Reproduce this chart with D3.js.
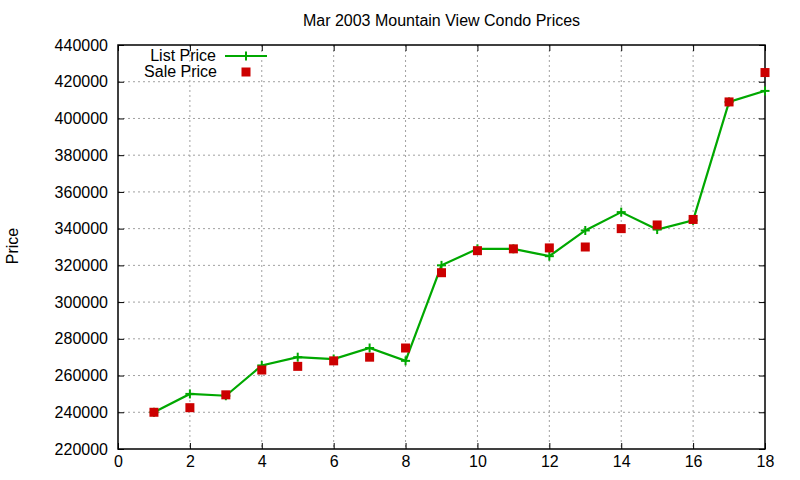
<!DOCTYPE html>
<html>
<head>
<meta charset="utf-8">
<script src="https://cdn.jsdelivr.net/npm/d3@7"></script>
<style>
  body { margin: 0; background: #fff; }
  text { font-family: "Liberation Sans", Arial, sans-serif; font-size: 16px; fill: #000; }
</style>
</head>
<body>
<div id="chart"></div>
<script>
// data
const listings = [1, 2, 3, 4, 5, 6, 7, 8, 9, 10, 11, 12, 13, 14, 15, 16, 17, 18];
const listPrice = [240000, 250000, 249000, 265500, 270000, 269000, 275000, 268000, 320000,
                   329000, 329000, 325000, 339000, 349000, 339500, 344500, 409000, 415000];
const salePrice = [240000, 242500, 249500, 263000, 265000, 268000, 270000, 275000, 316000,
                   328000, 329000, 329500, 330000, 340000, 342000, 345000, 409000, 425000];
const xTicks = [0, 2, 4, 6, 8, 10, 12, 14, 16, 18];
const yTicks = [220000, 240000, 260000, 280000, 300000, 320000, 340000, 360000, 380000, 400000, 420000, 440000];

const svgWidth = 800, svgHeight = 480;
const margin = { top: 45, right: 35, bottom: 31, left: 118 };
const width = svgWidth - margin.left - margin.right;
const height = svgHeight - margin.top - margin.bottom;
const green = "#00a800", red = "#cc0000";

const svg = d3.select("#chart").append("svg")
    .attr("width", svgWidth)
    .attr("height", svgHeight);

const g = svg.append("g")
    .attr("transform", "translate(" + margin.left + "," + margin.top + ")");

const x = d3.scaleLinear().domain([0, 18]).range([0, width]);
const y = d3.scaleLinear().domain([220000, 440000]).range([height, 0]);

// grid
g.append("g").selectAll("line").data(xTicks.slice(1, -1)).enter().append("line")
    .attr("x1", d => x(d)).attr("x2", d => x(d))
    .attr("y1", 0).attr("y2", height)
    .attr("stroke", "#a0a0a0").attr("stroke-dasharray", "2,3");
g.append("g").selectAll("line").data(yTicks.slice(1, -1)).enter().append("line")
    .attr("y1", d => y(d)).attr("y2", d => y(d))
    .attr("x1", 0).attr("x2", width)
    .attr("stroke", "#a0a0a0").attr("stroke-dasharray", "2,3");

// axes (ticks pointing inward, mirrored)
function styleAxis(sel) {
    sel.select(".domain").remove();
    sel.selectAll(".tick line").attr("stroke", "#000");
    sel.selectAll(".tick text").style("font-size", "16px").attr("fill", "#000");
}
g.append("g").attr("transform", "translate(0," + height + ")")
    .call(d3.axisBottom(x).tickValues(xTicks).tickSizeInner(-6).tickPadding(7))
    .call(styleAxis);
g.append("g")
    .call(d3.axisTop(x).tickValues(xTicks).tickSizeInner(-6).tickFormat(""))
    .call(styleAxis);
g.append("g")
    .call(d3.axisLeft(y).tickValues(yTicks).tickSizeInner(-6).tickPadding(10).tickFormat(d3.format("d")))
    .call(styleAxis);
g.append("g").attr("transform", "translate(" + width + ",0)")
    .call(d3.axisRight(y).tickValues(yTicks).tickSizeInner(-6).tickFormat(""))
    .call(styleAxis);

g.append("rect")
    .attr("width", width).attr("height", height)
    .attr("fill", "none").attr("stroke", "#000").attr("stroke-width", 1.5);

// list price line
const line = d3.line().x((d, i) => x(listings[i])).y(d => y(d));
g.append("path").datum(listPrice)
    .attr("d", line)
    .attr("fill", "none").attr("stroke", green).attr("stroke-width", 2.2);

function plusMark(sel) {
    sel.each(function() {
        d3.select(this).append("line").attr("x1", -4.5).attr("x2", 4.5).attr("y1", 0).attr("y2", 0);
        d3.select(this).append("line").attr("x1", 0).attr("x2", 0).attr("y1", -4.5).attr("y2", 4.5);
    }).attr("stroke", green).attr("stroke-width", 2);
}
g.append("g").selectAll("g").data(listPrice).enter().append("g")
    .attr("transform", (d, i) => "translate(" + x(listings[i]) + "," + y(d) + ")")
    .call(plusMark);

// sale price squares
g.append("g").selectAll("rect").data(salePrice).enter().append("rect")
    .attr("x", (d, i) => x(listings[i]) - 4.5)
    .attr("y", d => y(d) - 4.5)
    .attr("width", 9).attr("height", 9)
    .attr("fill", red);

// legend
const legend = svg.append("g");
legend.append("text").attr("x", 216).attr("y", 61).attr("text-anchor", "end").text("List Price");
legend.append("text").attr("x", 217).attr("y", 77).attr("text-anchor", "end").text("Sale Price");
legend.append("line").attr("x1", 225).attr("x2", 267).attr("y1", 56).attr("y2", 56)
    .attr("stroke", green).attr("stroke-width", 2.2);
legend.append("g").attr("transform", "translate(246,56)").call(plusMark);
legend.append("rect").attr("x", 241.5).attr("y", 67.5).attr("width", 9).attr("height", 9).attr("fill", red);

// titles
svg.append("text").attr("x", margin.left + width / 2).attr("y", 26)
    .attr("text-anchor", "middle").text("Mar 2003 Mountain View Condo Prices");
svg.append("text")
    .attr("transform", "translate(18,246) rotate(-90)")
    .attr("text-anchor", "middle").text("Price");
</script>
</body>
</html>
